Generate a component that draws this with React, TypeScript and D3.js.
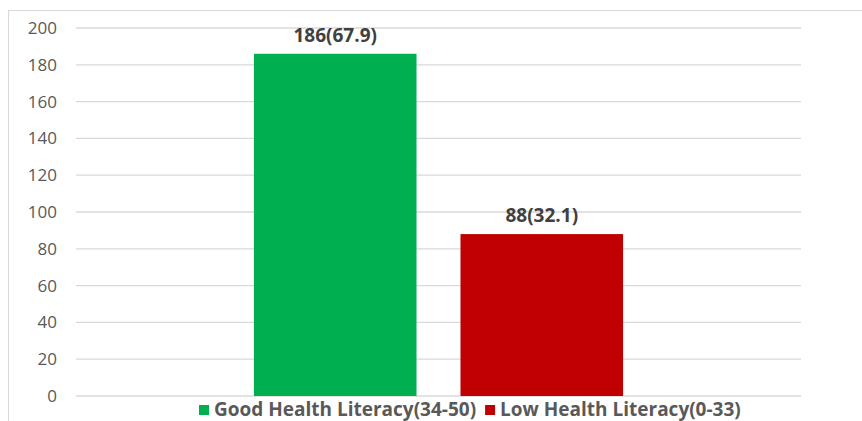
// @ts-nocheck
import React, { useEffect, useRef } from "react";
import * as d3 from "d3";

// chart data
const categories = ["Good Health Literacy(34-50)", "Low Health Literacy(0-33)"];
const counts = [186, 88];
const percents = ["67.9", "32.1"];
const colors = ["#00b050", "#c00000"];
const yTicks = [0, 20, 40, 60, 80, 100, 120, 140, 160, 180, 200];

function drawChart(container) {
  const width = 862;
  const height = 421;
  const marginLeft = 76;
  const marginRight = 61; // plot ends at 801
  const marginTop = 28;
  const marginBottom = 25; // y=0 at 396
  const font = "'Open Sans', 'Noto Sans', sans-serif";
  const textColor = "#595959";

  d3.select(container).selectAll("*").remove();

  const svg = d3
    .select(container)
    .append("svg")
    .attr("width", width)
    .attr("height", height)
    .attr("viewBox", [0, 0, width, height])
    .style("position", "absolute")
    .style("left", "0px")
    .style("top", "0px")
    .style("background", "#fff");

  // chart area border (left + top visible)
  svg.append("line")
    .attr("x1", 8.5).attr("x2", 8.5).attr("y1", 10).attr("y2", height)
    .attr("stroke", "#d9d9d9").attr("stroke-width", 1);
  svg.append("line")
    .attr("x1", 8).attr("x2", width).attr("y1", 10.5).attr("y2", 10.5)
    .attr("stroke", "#d9d9d9").attr("stroke-width", 1);

  const y = d3.scaleLinear([0, 200], [height - marginBottom, marginTop]);

  // one category group, two series inside it
  const x0 = d3.scaleBand(["all"], [marginLeft, width - marginRight]).paddingInner(0).paddingOuter(0.482);
  const x1 = d3.scaleBand(categories, [0, x0.bandwidth()]).paddingInner(0.213);

  // gridlines + y labels
  const grid = svg.append("g");
  grid.selectAll("line")
    .data(yTicks)
    .join("line")
    .attr("x1", marginLeft)
    .attr("x2", width - marginRight)
    .attr("y1", (d) => y(d))
    .attr("y2", (d) => y(d))
    .attr("stroke", "#d9d9d9")
    .attr("stroke-width", 1.3);

  grid.selectAll("text")
    .data(yTicks)
    .join("text")
    .attr("x", 57)
    .attr("y", (d) => y(d))
    .attr("dy", "0.35em")
    .attr("text-anchor", "end")
    .attr("font-family", font)
    .attr("font-size", 17)
    .attr("fill", textColor)
    .text((d) => d);

  // bars
  const bars = svg.append("g").attr("transform", `translate(${x0("all")},0)`);
  bars.selectAll("rect")
    .data(categories)
    .join("rect")
    .attr("x", (d) => x1(d))
    .attr("y", (d, i) => y(counts[i]))
    .attr("width", x1.bandwidth())
    .attr("height", (d, i) => y(0) - y(counts[i]))
    .attr("fill", (d, i) => colors[i]);

  bars.selectAll("text")
    .data(categories)
    .join("text")
    .attr("x", (d) => x1(d) + x1.bandwidth() / 2)
    .attr("y", (d, i) => y(counts[i]) - 12)
    .attr("text-anchor", "middle")
    .attr("font-family", font)
    .attr("font-weight", 700)
    .attr("font-size", 19)
    .attr("fill", "#404040")
    .text((d, i) => `${counts[i]}(${percents[i]})`);

  // legend (measured after the svg is in the page)
  const legend = svg.append("g").attr("transform", "translate(0,409)");
  let lx = 199;
  categories.forEach((c, i) => {
    legend.append("rect")
      .attr("x", lx).attr("y", -4).attr("width", 10).attr("height", 10)
      .attr("fill", colors[i]);
    const t = legend.append("text")
      .attr("x", lx + 15)
      .attr("y", 0)
      .attr("dy", "0.35em")
      .attr("font-family", font)
      .attr("font-weight", 700)
      .attr("font-size", 19)
      .attr("fill", textColor)
      .text(c);
    lx += 15 + t.node().getComputedTextLength() + 9;
  });
}

export default function App() {
  const ref = useRef(null);

  useEffect(() => {
    if (!ref.current) return;
    drawChart(ref.current);
  }, []);

  return <div ref={ref} style={{ width: 862, height: 421 }} />;
}
